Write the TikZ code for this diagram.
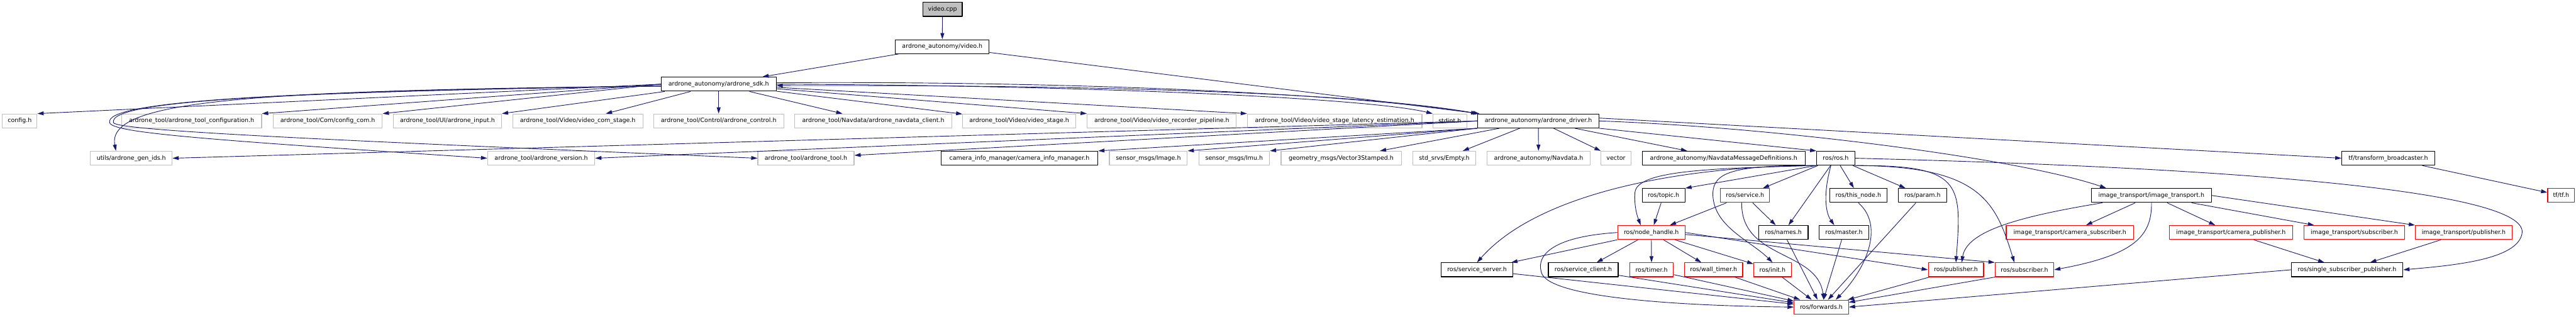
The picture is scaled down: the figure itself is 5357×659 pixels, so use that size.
\documentclass[tikz,border=0pt]{standalone}
\usepackage{fontspec}
\setmainfont{DejaVu Sans}
\usepackage{tikz}
\usetikzlibrary{arrows.meta}
\definecolor{edgeblue}{HTML}{191970}
\definecolor{boxgray}{HTML}{BFBFBF}
\definecolor{boxred}{HTML}{FF0000}
\tikzset{
  every picture/.style={line join=round, >={Triangle[length=13pt,width=8pt]}},
  filebox/.style={draw, fill=white, line width=1.5pt, minimum height=29pt, inner sep=1pt, font=\fontsize{12.4}{14}\selectfont},
  graybox/.style={filebox, draw=boxgray},
  blackbox/.style={filebox, draw=black},
  redbox/.style={filebox, draw=boxred},
  incl/.style={->, color=edgeblue, line width=1.2pt},
}

\begin{document}
\begin{tikzpicture}[x=1pt, y=-1pt]
\useasboundingbox (0,0) rectangle (5357,659);
\node[blackbox, fill=boxgray, minimum width=82pt] (cpp) at (1960,19.5) {video.cpp};
\node[blackbox, minimum width=195pt] (vid) at (1959.5,97) {ardrone\_autonomy/video.h};
\node[blackbox, minimum width=239pt] (sdk) at (1494.5,175) {ardrone\_autonomy/ardrone\_sdk.h};

\node[graybox, minimum width=72pt] (config) at (41,251.5) {config.h};
\node[graybox, minimum width=291pt] (toolcfg) at (398.5,251.5) {ardrone\_tool/ardrone\_tool\_configuration.h};
\node[graybox, minimum width=227pt] (cfgcom) at (681.5,251.5) {ardrone\_tool/Com/config\_com.h};
\node[graybox, minimum width=225pt] (input) at (930.5,251.5) {ardrone\_tool/UI/ardrone\_input.h};
\node[graybox, minimum width=271pt] (comstage) at (1201.5,251.5) {ardrone\_tool/Video/video\_com\_stage.h};
\node[graybox, minimum width=271pt] (control) at (1494.5,251.5) {ardrone\_tool/Control/ardrone\_control.h};
\node[graybox, minimum width=326pt] (navcli) at (1816,251.5) {ardrone\_tool/Navdata/ardrone\_navdata\_client.h};
\node[graybox, minimum width=235pt] (vstage) at (2119.5,251.5) {ardrone\_tool/Video/video\_stage.h};
\node[graybox, minimum width=310pt] (recpipe) at (2416,251.5) {ardrone\_tool/Video/video\_recorder\_pipeline.h};
\node[graybox, minimum width=363pt] (latency) at (2775.5,251.5) {ardrone\_tool/Video/video\_stage\_latency\_estimation.h};
\node[graybox, minimum width=70pt] (stdint) at (3015,251.5) {stdint.h};
\node[blackbox, minimum width=252pt] (drv) at (3199,251.5) {ardrone\_autonomy/ardrone\_driver.h};

\node[graybox, minimum width=170pt] (genids) at (273,329) {utils/ardrone\_gen\_ids.h};
\node[graybox, minimum width=223pt] (version) at (1125.5,329) {ardrone\_tool/ardrone\_version.h};
\node[graybox, minimum width=200pt] (tool) at (1676,329) {ardrone\_tool/ardrone\_tool.h};
\node[blackbox, minimum width=326pt] (caminfo) at (2120,329) {camera\_info\_manager/camera\_info\_manager.h};
\node[graybox, minimum width=162pt] (image) at (2388,329) {sensor\_msgs/Image.h};
\node[graybox, minimum width=147pt] (imu) at (2566.5,329) {sensor\_msgs/Imu.h};
\node[graybox, minimum width=250pt] (vec3) at (2789,329) {geometry\_msgs/Vector3Stamped.h};
\node[graybox, minimum width=131pt] (empty) at (3003.5,329) {std\_srvs/Empty.h};
\node[graybox, minimum width=215pt] (navdata) at (3199.5,329) {ardrone\_autonomy/Navdata.h};
\node[graybox, minimum width=63pt] (vector) at (3360.5,329) {vector};
\node[blackbox, minimum width=339pt] (navmsg) at (3584.5,329) {ardrone\_autonomy/NavdataMessageDefinitions.h};
\node[blackbox, minimum width=79pt] (ros) at (3817.5,329) {ros/ros.h};
\node[blackbox, minimum width=193pt] (tfbc) at (4966.5,329) {tf/transform\_broadcaster.h};

\node[blackbox, minimum width=89pt] (topic) at (3459.5,406.5) {ros/topic.h};
\node[redbox, minimum width=102pt] (service) at (3629,406.5) {ros/service.h};
\node[blackbox, minimum width=119pt] (thisnode) at (3864.5,406.5) {ros/this\_node.h};
\node[blackbox, minimum width=100pt] (param) at (3998,406.5) {ros/param.h};
\node[blackbox, minimum width=250pt] (imtrans) at (4474,406.5) {image\_transport/image\_transport.h};
\node[redbox, minimum width=56pt] (tf) at (5326,406.5) {tf/tf.h};

\node[redbox, minimum width=140pt] (nh) at (3434,483.5) {ros/node\_handle.h};
\node[blackbox, minimum width=103pt] (names) at (3708.5,483.5) {ros/names.h};
\node[blackbox, minimum width=103pt] (master) at (3834.5,483.5) {ros/master.h};
\node[redbox, minimum width=265pt] (camsub) at (4304.5,483.5) {image\_transport/camera\_subscriber.h};
\node[redbox, minimum width=257pt] (campub) at (4639.5,483.5) {image\_transport/camera\_publisher.h};
\node[redbox, minimum width=210pt] (itsub) at (4896,483.5) {image\_transport/subscriber.h};
\node[redbox, minimum width=201pt] (itpub) at (5123.5,483.5) {image\_transport/publisher.h};

\node[blackbox, minimum width=149pt] (srvsrv) at (3071.5,561) {ros/service\_server.h};
\node[blackbox, minimum width=145pt] (srvcli) at (3292.5,561) {ros/service\_client.h};
\node[redbox, minimum width=91pt] (timer) at (3434.5,561) {ros/timer.h};
\node[redbox, minimum width=121pt] (wtimer) at (3563.5,561) {ros/wall\_timer.h};
\node[redbox, minimum width=78pt] (init) at (3686,561) {ros/init.h};
\node[redbox, minimum width=115pt] (pub) at (4067.5,561) {ros/publisher.h};
\node[redbox, minimum width=122pt] (sub) at (4210,561) {ros/subscriber.h};
\node[blackbox, minimum width=232pt] (ssp) at (4881,561) {ros/single\_subscriber\_publisher.h};

\node[redbox, minimum width=113pt] (fwd) at (3787.5,638.5) {ros/forwards.h};

\draw[incl] (cpp) -- (vid);
\draw[incl] (vid) -- (sdk);
\draw[incl] (vid) -- (drv);
\draw[incl] (sdk.west) -- (config.north east);
\draw[incl] (sdk.west) -- (toolcfg.north east);
\draw[incl] (sdk.west) -- (cfgcom.north east);
\draw[incl] (sdk) -- (input.north east);
\draw[incl] (sdk) -- (comstage);
\draw[incl] (sdk) -- (control);
\draw[incl] (sdk) -- (navcli);
\draw[incl] (sdk) -- (vstage);
\draw[incl] (sdk) -- (recpipe.north west);
\draw[incl] (sdk) -- (latency.north west);
\draw[incl] (sdk.east) .. controls (2300,178) and (2850,205) .. (stdint.north west);
\draw[incl] ([yshift=3pt]sdk.east) .. controls (2300,168) and (2850,200) .. (drv.north west);
\draw[incl] (drv.north west) .. controls (2850,194) and (2300,176) .. ([yshift=-3pt]sdk.east);
\draw[incl] ([yshift=-4pt]sdk.west) .. controls (500,188) and (222,210) .. ([xshift=-32pt]genids.north);
\draw[incl] ([yshift=-4pt]sdk.west) .. controls (500,190) and (218,215) .. (228,255) .. controls (233,276) and (420,290) .. (version.west);
\draw[incl] ([yshift=-4pt]sdk.west) .. controls (500,192) and (226,214) .. (236,255) .. controls (241,272) and (700,292) .. (tool.west);

\draw[incl] (drv.west) -- (genids.east);
\draw[incl] (drv.west) -- (version.east);
\draw[incl] (drv.west) -- ([yshift=6pt]tool.east);
\draw[incl] (drv.south west) -- (caminfo.north east);
\draw[incl] (drv.south west) -- (image.north east);
\draw[incl] (drv.south west) -- (imu.north east);
\draw[incl] (drv) -- (vec3);
\draw[incl] (drv) -- (empty);
\draw[incl] (drv) -- (navdata);
\draw[incl] (drv) -- (vector);
\draw[incl] (drv) -- (navmsg);
\draw[incl] (drv.south east) -- (ros.north west);
\draw[incl] (drv.east) .. controls (3700,265) and (4200,330) .. ([xshift=-94pt]imtrans.north);
\draw[incl] ([yshift=6pt]drv.east) -- (tfbc.west);
\draw[incl] (tfbc) -- (tf);

\draw[incl] (ros.south west) -- (topic.north east);
\draw[incl] (ros) -- (service);
\draw[incl] (ros) -- (thisnode);
\draw[incl] (ros) -- (param);
\draw[incl] (ros) -- (names);
\draw[incl] ([xshift=-10pt]ros.south) .. controls (3792,400) and (3795,440) .. ([xshift=-20pt]master.north);
\draw[incl] (ros.south west) .. controls (3550,350) and (3405,355) .. (3400,400) .. controls (3398,430) and (3405,450) .. ([xshift=-22pt]nh.north);
\draw[incl] (ros.south west) .. controls (3500,345) and (3200,400) .. (srvsrv.north);
\draw[incl] (ros.south west) .. controls (3600,343) and (3565,360) .. (3562,400) .. controls (3560,470) and (3640,500) .. (init.north);
\draw[incl] (ros.south east) .. controls (4080,343) and (4080,380) .. (pub.north);
\draw[incl] (ros.south east) .. controls (4120,345) and (4150,420) .. ([xshift=-21pt]sub.north);
\draw[incl] (ros.east) .. controls (4700,350) and (5250,400) .. (5245,483) .. controls (5240,540) and (5100,552) .. (ssp.east);

\draw[incl] (topic) -- (nh);
\draw[incl] (service) -- (nh);
\draw[incl] (service) -- (names);
\draw[incl] ([xshift=-7pt]service.south) .. controls (3620,540) and (3780,520) .. ([xshift=5pt]fwd.north);
\draw[incl] (thisnode.south) .. controls (3920,470) and (3880,560) .. ([xshift=30pt]fwd.north);
\draw[incl] (param) -- (fwd);
\draw[incl] (names) -- (fwd);
\draw[incl] (master) -- (fwd);

\draw[incl] (nh) -- (srvsrv);
\draw[incl] (nh) -- (srvcli);
\draw[incl] (nh) -- (timer);
\draw[incl] (nh) -- (wtimer);
\draw[incl] (nh) -- (init);
\draw[incl] (nh.east) -- (pub.west);
\draw[incl] ([yshift=-4pt]nh.east) -- (sub.north west);
\draw[incl] (nh.west) .. controls (3230,492) and (3195,530) .. (3205,565) .. controls (3215,620) and (3500,636) .. (fwd.west);

\draw[incl] (srvsrv) -- (fwd);
\draw[incl] (srvcli) -- (fwd);
\draw[incl] (timer) -- (fwd);
\draw[incl] (wtimer) -- (fwd);
\draw[incl] (init) -- (fwd);
\draw[incl] (pub) -- (fwd);
\draw[incl] (sub.south west) -- (fwd);
\draw[incl] (ssp.west) -- (fwd.east);

\draw[incl] ([xshift=-102pt]imtrans.south) .. controls (4200,450) and (4090,480) .. ([xshift=12pt]pub.north);
\draw[incl] (imtrans) -- (camsub);
\draw[incl] (imtrans) .. controls (4475,490) and (4440,530) .. (sub.east);
\draw[incl] (imtrans) -- (campub);
\draw[incl] (imtrans) -- (itsub);
\draw[incl] (imtrans.east) -- (itpub.north west);
\draw[incl] (campub) -- (ssp);
\draw[incl] (itpub) -- (ssp);
\end{tikzpicture}
\end{document}
